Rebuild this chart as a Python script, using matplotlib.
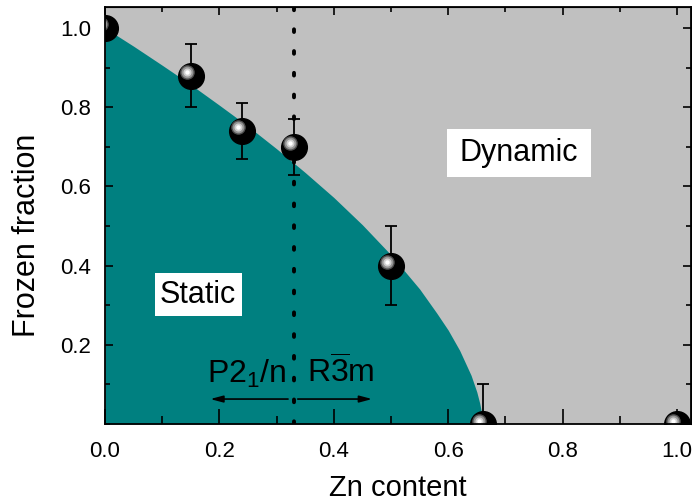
import numpy as np
import matplotlib
matplotlib.use("Agg")
import matplotlib.pyplot as plt
from matplotlib.patches import Rectangle
from matplotlib.ticker import MultipleLocator, FixedLocator, FormatStrFormatter
from matplotlib.transforms import offset_copy

plt.rcParams['font.family'] = ['Liberation Sans', 'DejaVu Sans']
plt.rcParams['mathtext.fontset'] = 'custom'
plt.rcParams['mathtext.rm'] = 'Liberation Sans'
plt.rcParams['mathtext.it'] = 'Liberation Sans:italic'

# measured points
zn = [0.0, 0.15, 0.24, 0.33, 0.50, 0.66, 1.0]
frozen = [1.0, 0.88, 0.74, 0.70, 0.40, 0.0, 0.0]
err_lo = [0.0, 0.08, 0.07, 0.07, 0.10, 0.0, 0.0]
err_hi = [0.0, 0.08, 0.07, 0.07, 0.10, 0.10, 0.0]
has_err = [False, True, True, True, True, True, False]

# static / dynamic boundary
bound_x = [0.0, 0.05, 0.10, 0.15, 0.20, 0.25, 0.30, 0.35, 0.40, 0.45,
           0.50, 0.55, 0.58, 0.60, 0.62, 0.64, 0.65, 0.655, 0.658, 0.66]
bound_y = [1.0, 0.954, 0.906, 0.857, 0.805, 0.752, 0.695, 0.635, 0.572, 0.503,
           0.427, 0.341, 0.28, 0.237, 0.186, 0.123, 0.081, 0.053, 0.031, 0.0]

phase_split = 0.33

teal = "#008080"
grey = "#c0c0c0"

fig = plt.figure(figsize=(6.92, 5.01), dpi=100)
ax = fig.add_axes([105/692, 1 - 424/501, 586/692, 417/501])
ax.set_xlim(0, 1.0245)
ax.set_ylim(0, 1.053)
ax.set_facecolor(grey)

# static region
ax.fill_between(bound_x, 0, bound_y, color=teal, lw=0, zorder=1)

# structural transition line
ax.axvline(phase_split, color="black", lw=2.8, ls=(0, (0.7, 4.9)),
           dash_capstyle="round", zorder=2)

# error bars
for x, y, lo, hi, e in zip(zn, frozen, err_lo, err_hi, has_err):
    if e:
        ax.errorbar([x], [y], yerr=[[lo], [hi]], fmt="none", ecolor="black",
                    elinewidth=1.3, capsize=4.5, capthick=1.3, zorder=3)

# shiny black spheres
ax.plot(zn, frozen, "o", ms=18.5, mfc="black", mec="black", zorder=4)
hl = offset_copy(ax.transData, fig=fig, x=-4, y=3.5, units="dots")
for ms, c in [(10.5, "#505050"), (8.5, "#959595"), (5.8, "#d0d0d0"), (3.2, "white")]:
    ax.plot(zn, frozen, "o", ms=ms, mfc=c, mec="none", transform=hl, zorder=5)

# labels in white boxes
ax.add_patch(Rectangle((0.598, 0.623), 0.252, 0.121, fc="white", ec="none", zorder=6))
ax.text(0.724, 0.684, "Dynamic", fontsize=22, ha="center", va="center", zorder=7)
ax.add_patch(Rectangle((0.0874, 0.272), 0.152, 0.109, fc="white", ec="none", zorder=6))
ax.text(0.163, 0.325, "Static", fontsize=22, ha="center", va="center", zorder=7)

# space groups
ax.text(0.247, 0.105, r"P2$_1$/n", fontsize=23, ha="center", va="baseline", zorder=7)
ax.text(0.413, 0.105, r"R$\overline{\mathrm{3}}$m", fontsize=23, ha="center", va="baseline", zorder=7)
arrow = dict(arrowstyle="-|>,head_length=0.75,head_width=0.2", color="black",
             lw=1.2, mutation_scale=10, shrinkA=0, shrinkB=0)
ax.annotate("", xy=(0.184, 0.063), xytext=(0.320, 0.063), arrowprops=arrow, zorder=7)
ax.annotate("", xy=(0.467, 0.063), xytext=(0.337, 0.063), arrowprops=arrow, zorder=7)

# axes, ticks
ax.set_xlabel("Zn content", fontsize=21, labelpad=9)
ax.set_ylabel("Frozen fraction", fontsize=22)
ax.yaxis.set_label_coords(-0.108, 0.453)
ax.xaxis.set_major_locator(MultipleLocator(0.2))
ax.xaxis.set_minor_locator(MultipleLocator(0.1))
ax.yaxis.set_major_locator(FixedLocator([0.2, 0.4, 0.6, 0.8, 1.0]))
ax.yaxis.set_minor_locator(MultipleLocator(0.1))
ax.xaxis.set_major_formatter(FormatStrFormatter("%.1f"))
ax.yaxis.set_major_formatter(FormatStrFormatter("%.1f"))
ax.tick_params(axis="both", which="both", direction="in", labelsize=16, width=1.2)
ax.tick_params(axis="x", which="major", length=11, pad=12)
ax.tick_params(axis="x", which="minor", length=6)
ax.tick_params(axis="y", which="major", length=6, pad=10)
ax.tick_params(axis="y", which="minor", length=3.5)

top = ax.secondary_xaxis("top")
top.xaxis.set_major_locator(MultipleLocator(0.2))
top.xaxis.set_minor_locator(MultipleLocator(0.1))
top.tick_params(which="both", direction="in", labeltop=False, width=1.2)
top.tick_params(which="major", length=6)
top.tick_params(which="minor", length=3.5)
right = ax.secondary_yaxis("right")
right.yaxis.set_major_locator(FixedLocator([0.2, 0.4, 0.6, 0.8, 1.0]))
right.yaxis.set_minor_locator(MultipleLocator(0.1))
right.tick_params(which="both", direction="in", labelright=False, width=1.2)
right.tick_params(which="major", length=6)
right.tick_params(which="minor", length=3.5)

for s in ax.spines.values():
    s.set_linewidth(1.3)
    s.set_zorder(8)

fig.savefig("out.png", dpi=100)
